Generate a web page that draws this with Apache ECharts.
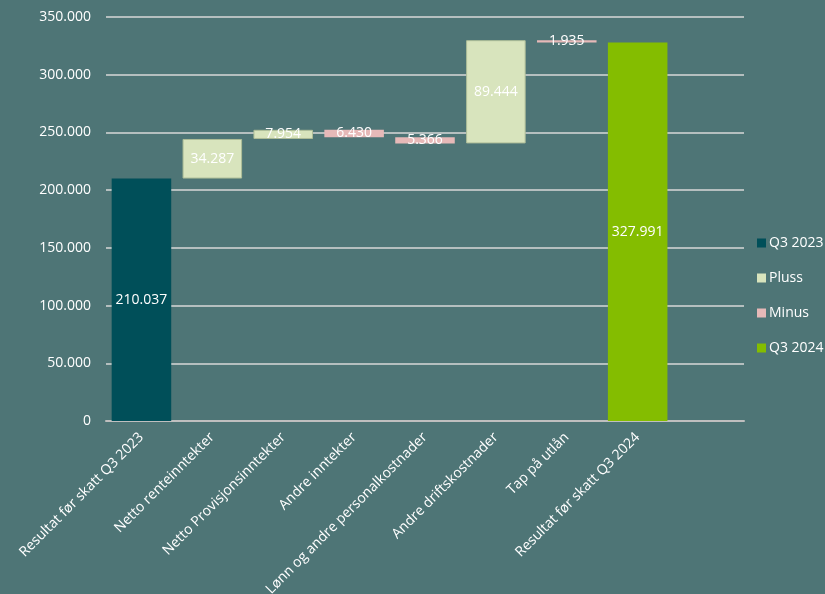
<!DOCTYPE html>
<html>
<head>
<meta charset="utf-8">
<script src="https://cdn.jsdelivr.net/npm/echarts@6/dist/echarts.min.js"></script>
<style>
  html, body { margin: 0; padding: 0; background: #4e7576; }
  #chart { width: 825px; height: 594px; }
</style>
</head>
<body>
<div id="chart"></div>
<script>
  // kategorier (siste er tom plass i Excel-grafen)
  const categories = [
    'Resultat før skatt Q3 2023',
    'Netto renteinntekter',
    'Netto Provisjonsinntekter',
    'Andre inntekter',
    'Lønn og andre personalkostnader',
    'Andre driftskostnader',
    'Tap på utlån',
    'Resultat før skatt Q3 2024',
    ''
  ]
  const startValues = [210037, null, null, null, null, null, null, null, null]
  const plusValues = [null, 34287, 7954, null, null, 89444, null, null, null]
  const minusValues = [null, null, null, 6430, 5366, null, 1935, null, null]
  const endValues = [null, null, null, null, null, null, null, 327991, null]
  const yTicks = [0, 50000, 100000, 150000, 200000, 250000, 300000, 350000]

  function fmt(v) {
    return String(v).replace(/\B(?=(\d{3})+(?!\d))/g, '.')
  }

  // usynlig base for fossefallet
  let running = 0
  const baseValues = categories.map(function(c, i) {
    if (startValues[i] != null) { running = startValues[i]; return null }
    if (plusValues[i] != null) { const b = running; running += plusValues[i]; return b }
    if (minusValues[i] != null) { running -= minusValues[i]; return running }
    return null
  })

  const font = 'Open Sans'
  const labelStyle = {
    show: true,
    position: 'inside',
    color: '#ffffff',
    fontFamily: font,
    fontSize: 14,
    textBorderWidth: 0,
    formatter: function(p) { return p.value == null ? '' : fmt(p.value) }
  }

  const chart = echarts.init(document.getElementById('chart'))
  chart.setOption({
    backgroundColor: '#4e7576',
    animation: false,
    grid: {
      left: 106, right: 81, top: 17, bottom: 173,
      containLabel: false,
      outerBoundsMode: 'none'
    },
    legend: {
      orient: 'vertical',
      left: 752,
      top: 231,
      itemWidth: 9,
      itemHeight: 9,
      itemGap: 21,
      icon: 'rect',
      itemStyle: { borderWidth: 0 },
      textStyle: { color: '#ffffff', fontFamily: font, fontSize: 14, padding: [0, 0, 0, -2] },
      data: ['Q3 2023', 'Pluss', 'Minus', 'Q3 2024']
    },
    xAxis: {
      type: 'category',
      data: categories,
      axisLine: { show: true, lineStyle: { color: '#bfbfbf', width: 2 } },
      axisTick: { show: false },
      axisLabel: {
        interval: 0,
        rotate: 45,
        color: '#ffffff',
        fontFamily: font,
        fontSize: 14,
        margin: 14
      }
    },
    yAxis: {
      type: 'value',
      min: yTicks[0],
      max: yTicks[yTicks.length - 1],
      interval: yTicks[1] - yTicks[0],
      axisLine: { show: false },
      axisTick: { show: false },
      splitLine: { lineStyle: { color: '#d9d9d9', width: 1.5 } },
      axisLabel: {
        color: '#ffffff',
        fontFamily: font,
        fontSize: 14,
        margin: 15,
        formatter: function(v) { return fmt(v) }
      }
    },
    series: [
      {
        name: 'base',
        type: 'bar',
        stack: 'fall',
        barCategoryGap: '16%',
        itemStyle: { color: 'transparent' },
        emphasis: { disabled: true },
        data: baseValues
      },
      {
        name: 'Q3 2023',
        type: 'bar',
        stack: 'fall',
        itemStyle: { color: '#004f59' },
        label: labelStyle,
        data: startValues
      },
      {
        name: 'Pluss',
        type: 'bar',
        stack: 'fall',
        itemStyle: { color: '#d8e4bd', borderColor: '#aebd98', borderWidth: 1 },
        label: labelStyle,
        data: plusValues
      },
      {
        name: 'Minus',
        type: 'bar',
        stack: 'fall',
        itemStyle: { color: '#e6b9b8' },
        label: labelStyle,
        data: minusValues
      },
      {
        name: 'Q3 2024',
        type: 'bar',
        stack: 'fall',
        itemStyle: { color: '#84bd00' },
        label: labelStyle,
        data: endValues
      }
    ]
  })
</script>
</body>
</html>
